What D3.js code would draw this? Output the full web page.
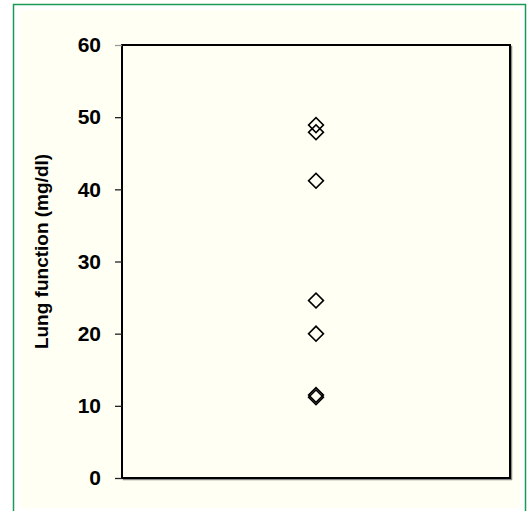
<!DOCTYPE html>
<html>
<head>
<meta charset="utf-8">
<script src="https://cdn.jsdelivr.net/npm/d3@7"></script>
<style>
  body { margin: 0; background: #fff; }
  svg { display: block; }
</style>
</head>
<body>
<div id="chart"></div>
<script>
// data
const categories = ['Group']
const values = [48.9, 47.9, 41.2, 24.6, 20.0, 11.5, 11.2]
const yTicks = [0, 10, 20, 30, 40, 50, 60]
const yTitle = 'Lung function (mg/dl)'

const w = 529, h = 511
const margin = { left: 122, top: 45, right: 19, bottom: 33 }
const bg = '#fffff3'

const svg = d3.select('#chart').append('svg')
  .attr('width', w)
  .attr('height', h)

// outer frame
svg.append('rect')
  .attr('x', 20).attr('y', 10)
  .attr('width', 500).attr('height', 498)
  .attr('fill', bg)
svg.append('rect')
  .attr('x', 13.5).attr('y', 4.5)
  .attr('width', 512).attr('height', 520)
  .attr('fill', 'none')
  .attr('stroke', '#1a9a55')
  .attr('stroke-width', 1.5)

const x = d3.scalePoint()
  .domain(categories)
  .range([margin.left, w - margin.right])
  .padding(0.5)

const y = d3.scaleLinear()
  .domain([0, 60])
  .range([h - margin.bottom, margin.top])

let pw = w - margin.right - margin.left,
  ph = y(0) - y(60)

// plot box with a small shadow
svg.append('rect')
  .attr('x', margin.left + 1.5).attr('y', margin.top + 1.5)
  .attr('width', pw).attr('height', ph)
  .attr('fill', 'none')
  .attr('stroke', '#888')
  .attr('stroke-width', 1.5)
svg.append('rect')
  .attr('x', margin.left).attr('y', margin.top)
  .attr('width', pw).attr('height', ph)
  .attr('fill', bg)
  .attr('stroke', '#000')
  .attr('stroke-width', 2)

// y axis
let yAxis = svg.append('g')
  .attr('transform', `translate(${margin.left},0)`)
  .call(d3.axisLeft(y).tickValues(yTicks).tickSize(7).tickPadding(14))
yAxis.select('.domain').remove()
yAxis.selectAll('.tick line')
  .attr('stroke', d => d === 60 ? '#999' : '#222')
  .attr('stroke-width', 1.3)
yAxis.selectAll('.tick text')
  .attr('font-family', 'Liberation Sans, Arial, sans-serif')
  .attr('font-size', '21px')
  .attr('font-weight', 'bold')
  .attr('fill', '#000')

svg.append('text')
  .text(yTitle)
  .attr('transform', `translate(48, ${(y(0) + y(60)) / 2 - 10}) rotate(-90)`)
  .attr('text-anchor', 'middle')
  .attr('font-family', 'Liberation Sans, Arial, sans-serif')
  .attr('font-size', '19px')
  .attr('font-weight', 'bold')
  .attr('fill', '#000')

// points
let diamond = d3.symbol().type(d3.symbolSquare).size(110)
svg.append('g')
  .selectAll('path')
  .data(values)
  .enter()
  .append('path')
  .attr('d', diamond)
  .attr('transform', d => `translate(${x(categories[0])},${y(d)}) rotate(45)`)
  .attr('fill', 'none')
  .attr('stroke', '#000')
  .attr('stroke-width', 1.6)
</script>
</body>
</html>
